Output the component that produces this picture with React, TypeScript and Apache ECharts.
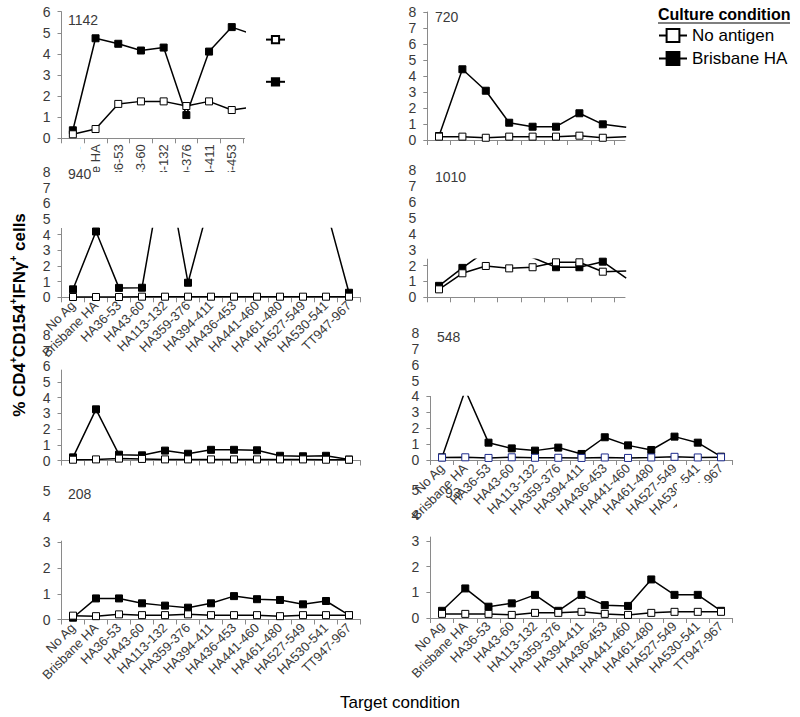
import { useEffect, useRef } from "react";
import * as echarts from "echarts";

// ---------- data ----------
const categories = [
  "No Ag", "Brisbane HA", "HA36-53", "HA43-60", "HA113-132", "HA359-376",
  "HA394-411", "HA436-453", "HA441-460", "HA461-480", "HA527-549", "HA530-541", "TT947-967",
];
const legendNames = ["No antigen", "Brisbane HA"];

const donor1142NoAntigen = [0.19, 0.44, 1.63, 1.75, 1.75, 1.53, 1.75, 1.34, 1.5];
const donor1142Brisbane = [0.38, 4.74, 4.48, 4.16, 4.3, 1.1, 4.11, 5.27, 4.9];

const donor720NoAntigen = [0.21, 0.21, 0.14, 0.21, 0.21, 0.21, 0.27, 0.14, 0.2];
const donor720Brisbane = [0.25, 4.42, 3.08, 1.08, 0.83, 0.83, 1.67, 0.98, 0.8];

const donor940NoAntigen = [0.02, 0.02, 0.02, 0.04, 0.04, 0.04, 0.04, 0.04, 0.04, 0.04, 0.04, 0.04, 0.04];
const donor940Brisbane = [0.51, 4.2, 0.6, 0.61, 9, 0.93, 6.4, null, null, null, null, 5.7, 0.29];

const donor1010NoAntigen = [0.5, 1.51, 1.97, 1.82, 1.89, 2.2, 2.2, 1.61, 1.65];
const donor1010Brisbane = [0.72, 1.85, 2.9, 2.8, 2.5, 1.89, 1.89, 2.24, 1.2];

const donorRow3NoAntigen = [0.05, 0.07, 0.12, 0.1, 0.07, 0.07, 0.07, 0.07, 0.07, 0.07, 0.07, 0.05, 0.05];
const donorRow3Brisbane = [0.2, 3.26, 0.37, 0.33, 0.63, 0.43, 0.68, 0.68, 0.65, 0.3, 0.27, 0.3, 0.06];

const donor548NoAntigen = [0.15, 0.17, 0.13, 0.17, 0.14, 0.14, 0.13, 0.16, 0.13, 0.16, 0.2, 0.16, 0.17];
const donor548Brisbane = [0.17, 4.4, 1.09, 0.73, 0.59, 0.78, 0.38, 1.43, 0.92, 0.63, 1.47, 1.09, 0.21];

const donor208NoAntigen = [0.15, 0.13, 0.2, 0.17, 0.17, 0.2, 0.17, 0.17, 0.17, 0.13, 0.17, 0.17, 0.17];
const donor208Brisbane = [0.07, 0.82, 0.82, 0.63, 0.54, 0.46, 0.63, 0.91, 0.79, 0.76, 0.59, 0.72, 0.17];

const donor93NoAntigen = [0.16, 0.16, 0.16, 0.12, 0.2, 0.2, 0.24, 0.16, 0.12, 0.2, 0.24, 0.24, 0.24];
const donor93Brisbane = [0.28, 1.15, 0.44, 0.57, 0.9, 0.28, 0.9, 0.5, 0.47, 1.5, 0.9, 0.9, 0.28];

// ---------- layout ----------
const FONT = "'Liberation Sans', Arial, sans-serif";
const AXIS_COLOR = "#8a8a8a";
const TEXT_COLOR = "#3a3a3a";

type Panel = {
  title?: string; titleLeft?: number; titleTop?: number;
  left: number; spacing: number; xMax: number; y0: number; ppu: number;
  clip: number; labelMax: number; rotate: number | null;
  noAntigen: (number | null)[]; brisbane: (number | null)[]; whiteBorder: string;
};

const panels: Panel[] = [
  { title: "1142", titleLeft: 68, titleTop: 13, left: 61.5, spacing: 22.7, xMax: 7.56, y0: 138.3, ppu: 21.1, clip: 6, labelMax: 6, rotate: 90, noAntigen: donor1142NoAntigen, brisbane: donor1142Brisbane, whiteBorder: "#000" },
  { title: "720", titleLeft: 435, titleTop: 10, left: 427.3, spacing: 23.4, xMax: 7.95, y0: 140, ppu: 16, clip: 8, labelMax: 8, rotate: null, noAntigen: donor720NoAntigen, brisbane: donor720Brisbane, whiteBorder: "#000" },
  { title: "940", titleLeft: 68, titleTop: 167, left: 61.5, spacing: 23, xMax: 12.5, y0: 297.3, ppu: 15.66, clip: 4.4, labelMax: 8, rotate: 45, noAntigen: donor940NoAntigen, brisbane: donor940Brisbane, whiteBorder: "#000" },
  { title: "1010", titleLeft: 435, titleTop: 170, left: 427.3, spacing: 23.4, xMax: 7.95, y0: 297.3, ppu: 15.9, clip: 2.4, labelMax: 8, rotate: null, noAntigen: donor1010NoAntigen, brisbane: donor1010Brisbane, whiteBorder: "#000" },
  { left: 61.5, spacing: 23, xMax: 12.5, y0: 460.5, ppu: 15.7, clip: 5.76, labelMax: 8, rotate: null, noAntigen: donorRow3NoAntigen, brisbane: donorRow3Brisbane, whiteBorder: "#000" },
  { title: "548", titleLeft: 437, titleTop: 330, left: 430.4, spacing: 23.25, xMax: 12.5, y0: 460, ppu: 15.9, clip: 4.0, labelMax: 8, rotate: 45, noAntigen: donor548NoAntigen, brisbane: donor548Brisbane, whiteBorder: "#1c2a8c" },
  { title: "208", titleLeft: 68, titleTop: 487, left: 61.5, spacing: 23, xMax: 12.5, y0: 619.5, ppu: 25.7, clip: 3.05, labelMax: 5, rotate: 45, noAntigen: donor208NoAntigen, brisbane: donor208Brisbane, whiteBorder: "#000" },
  { title: "93", titleLeft: 445, titleTop: 486, left: 430.4, spacing: 23.25, xMax: 12.5, y0: 618, ppu: 25.7, clip: 3.15, labelMax: 5, rotate: 45, noAntigen: donor93NoAntigen, brisbane: donor93Brisbane, whiteBorder: "#000" },
];

function lineSeries(name: string, values: (number | null)[], axisIndex: number, fill: string, border: string) {
  return {
    type: "line",
    name,
    xAxisIndex: axisIndex,
    yAxisIndex: axisIndex,
    data: values.map((v, k) => [k, v === null ? "-" : v]),
    symbol: "rect",
    symbolSize: 7,
    showSymbol: true,
    showAllSymbol: true,
    lineStyle: { color: "#000", width: 1.5 },
    itemStyle: { color: fill, borderColor: border, borderWidth: 1 },
    clip: true,
    silent: true,
    emphasis: { disabled: true },
  };
}

function buildOption() {
  const grid: any[] = [];
  const xAxis: any[] = [];
  const yAxis: any[] = [];
  const series: any[] = [];
  const title: any[] = [];

  panels.forEach((p) => {
    const width = (p.xMax + 0.5) * p.spacing;
    const gl = grid.length;
    grid.push({ left: p.left, top: p.y0 - p.labelMax * p.ppu, width, height: p.labelMax * p.ppu });
    grid.push({ left: p.left, top: p.y0 - p.clip * p.ppu, width, height: p.clip * p.ppu });

    xAxis.push({ gridIndex: gl, type: "value", min: -0.5, max: p.xMax, show: false });
    yAxis.push({
      gridIndex: gl, type: "value", min: 0, max: p.labelMax, interval: 1,
      axisLine: { show: false }, axisTick: { show: false }, splitLine: { show: false },
      axisLabel: { fontSize: 14, color: TEXT_COLOR, fontFamily: FONT, margin: 11 },
    });

    const xTicks: number[] = [];
    for (let t = -0.5; t <= p.xMax + 1e-6; t += 1) xTicks.push(t);
    const xLabels = categories.map((_, k) => k).filter((k) => k <= p.xMax);
    xAxis.push({
      gridIndex: gl + 1, type: "value", min: -0.5, max: p.xMax,
      splitLine: { show: false },
      axisLine: { show: true, onZero: false, lineStyle: { color: AXIS_COLOR, width: 1 } },
      axisTick: { show: true, customValues: xTicks, length: 5, lineStyle: { color: AXIS_COLOR } },
      axisLabel: p.rotate === null
        ? { show: false }
        : {
            show: true, customValues: xLabels, rotate: p.rotate,
            formatter: (v: number) => categories[Math.round(v)],
            fontSize: 13, color: TEXT_COLOR, fontFamily: FONT, margin: 6,
          },
    });
    const yT: number[] = [];
    for (let t = 0; t <= p.clip + 1e-6; t++) yT.push(t);
    yAxis.push({
      gridIndex: gl + 1, type: "value", min: 0, max: p.clip,
      splitLine: { show: false },
      axisLine: { show: true, onZero: false, lineStyle: { color: AXIS_COLOR, width: 1 } },
      axisTick: { show: true, customValues: yT, length: 4, lineStyle: { color: AXIS_COLOR } },
      axisLabel: { show: false },
    });

    series.push(lineSeries("Brisbane HA", p.brisbane, gl + 1, "#000", "#000"));
    series.push(lineSeries("No antigen", p.noAntigen, gl + 1, "#fff", p.whiteBorder));

    if (p.title) {
      title.push({
        text: p.title, left: p.titleLeft, top: p.titleTop, padding: 0,
        textStyle: { fontSize: 14, fontWeight: "normal", color: TEXT_COLOR, fontFamily: FONT },
      });
    }
  });

  title.push({
    text: "Culture condition", left: 658, top: 6, padding: 0,
    textStyle: { fontSize: 16, fontWeight: "bold", color: "#000", fontFamily: FONT },
  });
  title.push({
    text: "Target condition", left: "center", top: 694, padding: 0,
    textStyle: { fontSize: 17, fontWeight: "normal", color: "#000", fontFamily: FONT },
  });

  return {
    animation: false,
    backgroundColor: "#fff",
    title,
    grid,
    xAxis,
    yAxis,
    series,
    legend: [
      {
        data: legendNames, orient: "vertical", left: 658, top: 27, padding: 0,
        itemWidth: 28, itemHeight: 16, itemGap: 6, selectedMode: false,
        textStyle: { fontSize: 17, color: "#000", fontFamily: FONT },
      },
      {
        data: legendNames, orient: "vertical", left: 265, top: 35, padding: 0,
        itemWidth: 19, itemHeight: 9, itemGap: 33, selectedMode: false,
        formatter: () => "", textStyle: { fontSize: 9 },
      },
    ],
    graphic: {
      elements: [
        // white patches where the pasted-over panels hide axis labels in the original figure
        { type: "rect", z: 1, silent: true, shape: { x: 58, y: 172, width: 195, height: 54 }, style: { fill: "#fff" } },
        { type: "rect", z: 1, silent: true, shape: { x: 66, y: 144, width: 14, height: 30 }, style: { fill: "#fff" } },
        { type: "rect", z: 1, silent: true, shape: { x: 677, y: 483, width: 70, height: 52 }, style: { fill: "#fff" } },
        {
          type: "line", z: 10, silent: true,
          shape: { x1: 658, y1: 23, x2: 790, y2: 23 },
          style: { stroke: "#000", lineWidth: 1.2 },
        },
        {
          type: "text", z: 10, silent: true,
          x: 18, y: 315, rotation: Math.PI / 2,
          style: {
            text: "{a|% CD4}{s|+}{a|CD154}{s|+}{a|IFNγ}{s|+}{a| cells}",
            align: "center", verticalAlign: "middle",
            rich: {
              a: { fontSize: 17, fontWeight: "bold", fontFamily: FONT, fill: "#000", lineHeight: 20, verticalAlign: "bottom" },
              s: { fontSize: 10, fontWeight: "bold", fontFamily: FONT, fill: "#000", lineHeight: 20, verticalAlign: "top" },
            },
          },
        },
      ],
    },
  };
}

export default function App() {
  const ref = useRef<HTMLDivElement>(null);
  useEffect(() => {
    if (!ref.current) return;
    const chart = echarts.init(ref.current, null, { renderer: "svg" });
    chart.setOption(buildOption() as any);
    return () => chart.dispose();
  }, []);
  return (
    <div
      ref={ref}
      style={{ position: "absolute", left: 0, top: 0, width: 800, height: 717, background: "#fff" }}
    />
  );
}
